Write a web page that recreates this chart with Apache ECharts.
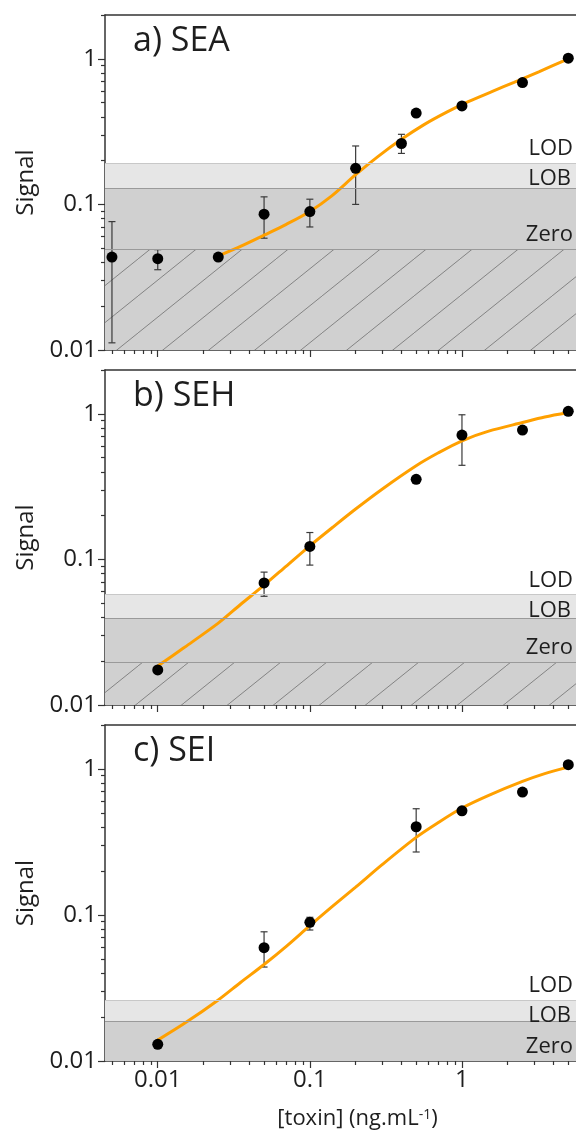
<!DOCTYPE html>
<html><head><meta charset="utf-8">
<script src="https://cdn.jsdelivr.net/npm/echarts@6/dist/echarts.min.js"></script>
<style>html,body{margin:0;padding:0;background:#fff}#chart{width:576px;height:1131px}</style>
</head><body><div id="chart"></div>
<script>
// ---- tick values ----
const xMajorTicks = [0.01, 0.1, 1];
const xMinorTicks = [0.005, 0.006, 0.007, 0.008, 0.009, 0.02, 0.03, 0.04, 0.05, 0.06, 0.07, 0.08, 0.09,
                     0.2, 0.3, 0.4, 0.5, 0.6, 0.7, 0.8, 0.9, 2, 3, 4, 5];
const yMajorTicks = [0.01, 0.1, 1];
const yMinorTicks = [0.02, 0.03, 0.04, 0.05, 0.06, 0.07, 0.08, 0.09, 0.2, 0.3, 0.4, 0.5, 0.6, 0.7, 0.8, 0.9, 2];
const xAxisTitle = '[toxin] (ng.mL{sup|-1})';
const yAxisTitle = 'Signal';
const panelTitles = ['a) SEA', 'b) SEH', 'c) SEI'];
const levelNames = ['LOD', 'LOB', 'Zero'];

// ---- panel a: SEA ----
const seaConc = [0.005, 0.01, 0.025, 0.05, 0.1, 0.2, 0.4, 0.5, 1, 2.5, 5];
const seaSignal = [0.0435, 0.0424, 0.0435, 0.0857, 0.0893, 0.177, 0.262, 0.424, 0.475, 0.687, 1.01];
const seaErrLow = [0.0112, 0.0356, null, 0.0586, 0.070, 0.100, 0.224, null, null, null, null];
const seaErrHigh = [0.0762, 0.0489, null, 0.1127, 0.1086, 0.252, 0.303, null, null, null, null];
const seaFitConc = [0.025, 0.035, 0.05, 0.07, 0.1, 0.14, 0.2, 0.28, 0.4, 0.56, 0.8, 1.1, 1.6, 2.2, 3.2, 5];
const seaFitSignal = [0.0443, 0.0515, 0.0615, 0.073, 0.0895, 0.115, 0.160, 0.213, 0.280, 0.352, 0.432, 0.508, 0.60, 0.69, 0.815, 1.0];
const seaLevels = [0.192, 0.129, 0.0494]; // LOD, LOB, Zero

// ---- panel b: SEH ----
const sehConc = [0.01, 0.05, 0.1, 0.5, 1, 2.5, 5];
const sehSignal = [0.0174, 0.0689, 0.1228, 0.355, 0.715, 0.773, 1.04];
const sehErrLow = [null, 0.0558, 0.0914, null, 0.443, null, null];
const sehErrHigh = [null, 0.0818, 0.153, null, 0.985, null, null];
const sehFitConc = [0.01, 0.015, 0.025, 0.035, 0.05, 0.07, 0.1, 0.14, 0.2, 0.3, 0.5, 0.7, 1, 1.5, 2.5, 3.5, 5];
const sehFitSignal = [0.0185, 0.0249, 0.0365, 0.049, 0.0665, 0.090, 0.124, 0.165, 0.222, 0.305, 0.44, 0.54, 0.653, 0.76, 0.871, 0.95, 1.02];
const sehLevels = [0.0576, 0.0396, 0.0197];

// ---- panel c: SEI ----
const seiConc = [0.01, 0.05, 0.1, 0.5, 1, 2.5, 5];
const seiSignal = [0.013, 0.0597, 0.089, 0.402, 0.517, 0.695, 1.07];
const seiErrLow = [null, 0.044, 0.0789, 0.270, null, null, null];
const seiErrHigh = [null, 0.0767, 0.0964, 0.534, null, null, null];
const seiFitConc = [0.01, 0.015, 0.025, 0.035, 0.05, 0.07, 0.1, 0.14, 0.2, 0.3, 0.5, 0.7, 1, 1.5, 2.5, 3.5, 5];
const seiFitSignal = [0.0139, 0.0181, 0.0262, 0.0345, 0.0458, 0.061, 0.0845, 0.114, 0.155, 0.222, 0.34, 0.43, 0.54, 0.66, 0.822, 0.93, 1.03];
const seiLevels = [0.0261, 0.0187, 0.01];

const X_MIN = 0.0045, X_MAX = 5.62, Y_MIN = 0.01, Y_MAX = 2;
const FONT = 'Open Sans';

const panels = [
  {title: panelTitles[0], conc: seaConc, sig: seaSignal, lo: seaErrLow, hi: seaErrHigh, fx: seaFitConc, fy: seaFitSignal, lv: seaLevels, hatch: true},
  {title: panelTitles[1], conc: sehConc, sig: sehSignal, lo: sehErrLow, hi: sehErrHigh, fx: sehFitConc, fy: sehFitSignal, lv: sehLevels, hatch: true},
  {title: panelTitles[2], conc: seiConc, sig: seiSignal, lo: seiErrLow, hi: seiErrHigh, fx: seiFitConc, fy: seiFitSignal, lv: seiLevels, hatch: false}
];
const gridTops = [15, 370, 725];
const gridHeights = [335, 335, 336];

// hatch pattern
const hatchCanvas = document.createElement('canvas');
hatchCanvas.width = 46; hatchCanvas.height = 37;
(function () {
  const g = hatchCanvas.getContext('2d');
  g.strokeStyle = '#7a7a7a'; g.lineWidth = 0.9;
  for (const o of [-46, 0, 46]) { g.beginPath(); g.moveTo(o, 37); g.lineTo(o + 46, 0); g.stroke(); }
})();

const fmt = v => String(parseFloat(Number(v).toPrecision(6)));
const axisColor = '#333';
const textColor = '#1e1e1e';

const grid = [], xAxis = [], yAxis = [], series = [], title = [];
panels.forEach((p, i) => {
  grid.push({left: 105, right: 0, top: gridTops[i], height: gridHeights[i]});
  title.push({text: p.title, left: 128, top: gridTops[i] + 4,
    textStyle: {fontFamily: FONT, fontSize: 34, fontWeight: 'normal', color: textColor}});
  const last = i === panels.length - 1;
  xAxis.push({
    gridIndex: i, type: 'log', logBase: 10, min: X_MIN, max: X_MAX, position: 'bottom',
    axisLine: {show: true, lineStyle: {color: axisColor, width: 1.5}},
    axisTick: {show: true, customValues: xMajorTicks, length: 7, lineStyle: {color: axisColor, width: 1.2}},
    axisLabel: {show: last, customValues: xMajorTicks, formatter: fmt, fontFamily: FONT, fontSize: 24, color: textColor, margin: 7},
    splitLine: {show: false}, minorTick: {show: false},
    name: last ? xAxisTitle : '', nameLocation: 'middle', nameGap: 47,
    nameTextStyle: {fontFamily: FONT, fontSize: 22, color: textColor, padding: [0, 0, 0, 34],
      rich: {sup: {fontFamily: FONT, fontSize: 14, color: textColor, verticalAlign: 'top', lineHeight: 22}}}
  });
  xAxis.push({
    gridIndex: i, type: 'log', logBase: 10, min: X_MIN, max: X_MAX, position: 'bottom',
    axisLine: {show: false},
    axisTick: {show: true, customValues: xMinorTicks, length: 4, lineStyle: {color: axisColor, width: 1.2}},
    axisLabel: {show: false}, splitLine: {show: false}
  });
  xAxis.push({
    gridIndex: i, type: 'log', logBase: 10, min: X_MIN, max: X_MAX, position: 'top',
    axisLine: {show: true, lineStyle: {color: axisColor, width: 1.5}},
    axisTick: {show: false}, axisLabel: {show: false}, splitLine: {show: false}
  });
  yAxis.push({
    gridIndex: i, type: 'log', logBase: 10, min: Y_MIN, max: Y_MAX, position: 'left',
    axisLine: {show: true, lineStyle: {color: axisColor, width: 1.5}},
    axisTick: {show: true, customValues: yMajorTicks, length: 7, lineStyle: {color: axisColor, width: 1.2}},
    axisLabel: {show: true, customValues: yMajorTicks, formatter: fmt, fontFamily: FONT, fontSize: 24, color: textColor, margin: 8},
    splitLine: {show: false},
    name: yAxisTitle, nameLocation: 'middle', nameGap: 66, nameRotate: 90,
    nameTextStyle: {fontFamily: FONT, fontSize: 24, color: textColor}
  });
  yAxis.push({
    gridIndex: i, type: 'log', logBase: 10, min: Y_MIN, max: Y_MAX, position: 'left',
    axisLine: {show: false},
    axisTick: {show: true, customValues: yMinorTicks, length: 4, lineStyle: {color: axisColor, width: 1.2}},
    axisLabel: {show: false}, splitLine: {show: false}
  });

  const xi = 3 * i, yi = 2 * i;
  const [lod, lob, zero] = p.lv;
  const areas = [
    [{yAxis: Y_MIN, itemStyle: {color: '#d0d0d0'}}, {yAxis: lob}],
    [{yAxis: lob, itemStyle: {color: '#e6e6e6'}}, {yAxis: lod}]
  ];
  if (p.hatch) areas.push([{yAxis: Y_MIN, itemStyle: {color: {image: hatchCanvas, repeat: 'repeat'}}}, {yAxis: zero}]);
  const lblBase = {show: true, fontFamily: FONT, fontSize: 22, color: textColor, distance: 3};
  series.push({
    type: 'line', xAxisIndex: xi, yAxisIndex: yi, data: [], silent: true, z: 1,
    markArea: {silent: true, data: areas},
    markLine: {
      silent: true, symbol: ['none', 'none'], animation: false, precision: 6,
      data: [
        {yAxis: lod, lineStyle: {color: '#c8c8c8', width: 1.2, type: 'solid'},
         label: Object.assign({}, lblBase, {formatter: levelNames[0], position: 'insideEndTop'})},
        {yAxis: lod, lineStyle: {color: '#c8c8c8', width: 1.2, type: 'solid'},
         label: Object.assign({}, lblBase, {formatter: levelNames[1], position: 'insideEndBottom', distance: 5})},
        {yAxis: lob, lineStyle: {color: '#9a9a9a', width: 1.2, type: 'solid'}, label: {show: false}},
        {yAxis: zero, lineStyle: {color: p.hatch ? '#9a9a9a' : 'rgba(0,0,0,0)', width: 1.2, type: 'solid'},
         label: Object.assign({}, lblBase, {formatter: levelNames[2], position: 'insideEndTop'})}
      ]
    }
  });
  const errData = [];
  p.conc.forEach((c, k) => { if (p.lo[k] != null) errData.push([c, p.lo[k], p.hi[k]]); });
  series.push({
    type: 'custom', xAxisIndex: xi, yAxisIndex: yi, z: 3, silent: true,
    encode: {x: 0, y: [1, 2]}, data: errData,
    renderItem: function (params, api) {
      const x = api.value(0);
      const top = api.coord([x, api.value(2)]);
      const bot = api.coord([x, api.value(1)]);
      const w = 3.5;
      const st = {stroke: '#3a3a3a', lineWidth: 1.2};
      return {type: 'group', children: [
        {type: 'line', shape: {x1: top[0], y1: top[1], x2: bot[0], y2: bot[1]}, style: st},
        {type: 'line', shape: {x1: top[0] - w, y1: top[1], x2: top[0] + w, y2: top[1]}, style: st},
        {type: 'line', shape: {x1: bot[0] - w, y1: bot[1], x2: bot[0] + w, y2: bot[1]}, style: st}
      ]};
    }
  });
  series.push({
    type: 'line', xAxisIndex: xi, yAxisIndex: yi, z: 4, smooth: 0.3, showSymbol: false, silent: true,
    lineStyle: {color: '#FFA000', width: 3},
    data: p.fx.map((c, k) => [c, p.fy[k]])
  });
  series.push({
    type: 'scatter', xAxisIndex: xi, yAxisIndex: yi, z: 5, symbolSize: 11, silent: true,
    itemStyle: {color: '#000', opacity: 1},
    data: p.conc.map((c, k) => [c, p.sig[k]])
  });
});

const chart = echarts.init(document.getElementById('chart'), null, {renderer: 'canvas'});
chart.setOption({animation: false, backgroundColor: '#fff', title, grid, xAxis, yAxis, series});
</script></body></html>
